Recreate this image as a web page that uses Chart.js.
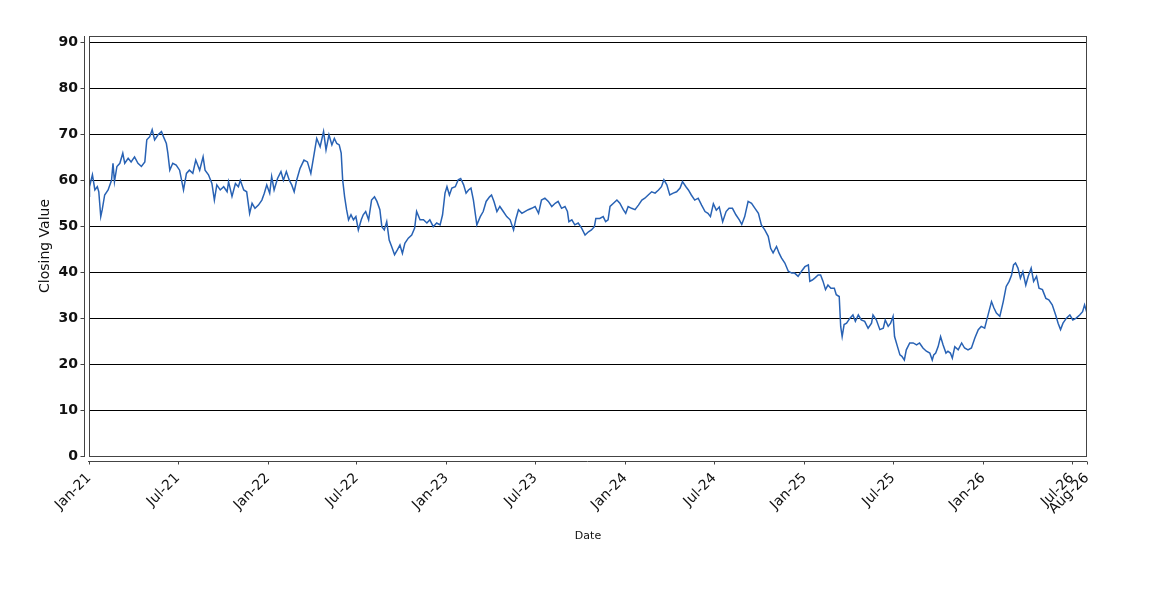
<!DOCTYPE html>
<html>
<head>
<meta charset="utf-8">
<script src="https://cdn.jsdelivr.net/npm/chart.js@4/dist/chart.umd.min.js"></script>
<style>
  html, body { margin: 0; padding: 0; background: #fff; }
  #wrap { width: 1150px; height: 600px; }
</style>
</head>
<body>
<div id="wrap"><canvas id="mycanvas"></canvas></div>
<script>
// start date of the series; x values below are days after it
var startDate = '2021-01-01';

var tickDates = ['2021-01-01','2021-07-01','2022-01-01','2022-07-01','2023-01-01','2023-07-01',
  '2024-01-01','2024-07-01','2025-01-01','2025-07-01','2026-01-01','2026-07-01','2026-08-01'];
var tickLabels = ['Jan-21','Jul-21','Jan-22','Jul-22','Jan-23','Jul-23',
  'Jan-24','Jul-24','Jan-25','Jul-25','Jan-26','Jul-26','Aug-26'];
var yTicks = [0,10,20,30,40,50,60,70,80,90];

// days after startDate
var dayOffsets = [
  0,1,7,12,17,20,24,27,32,39,46,49,52,57,63,69,73,80,86,93,100,107,114,118,124,129,134,141,148,152,158,161,165,171,178,185,193,199,205,212,218,226,233,
  237,244,251,256,261,268,275,282,285,292,299,305,309,316,322,328,333,339,346,353,358,363,369,373,378,385,392,397,403,409,414,419,424,431,439,446,453,460,465,
  472,479,484,490,496,501,506,511,515,518,522,526,530,535,540,545,550,556,560,565,571,577,583,588,594,598,603,608,613,618,624,630,635,640,645,652,659,665,669,676,683,690,696,703,
  710,717,722,727,731,736,741,748,754,759,765,770,775,780,785,792,799,805,811,818,822,827,833,839,846,853,860,867,872,877,884,890,897,904,911,918,924,931,938,945,952,958,
  965,972,977,980,986,992,999,1006,1013,1020,1026,1032,1035,1043,1050,1055,1060,1064,1071,1078,1084,1091,1096,1101,1108,1115,1122,1129,1135,1142,1149,1156,1163,1169,1174,1180,1186,1193,1200,1207,1212,
  1219,1224,1230,1237,1244,1251,1258,1264,1269,1275,1281,1287,1294,1301,1307,1314,1321,1328,1333,1339,1346,1353,1360,1367,1373,1380,1387,1392,1397,1404,1409,1414,1421,1428,1435,1441,1448,1455,1462,1469,
  1472,1477,1482,1489,1494,1499,1504,1509,1515,1522,1526,1532,1535,1538,1542,1547,1554,1560,1565,1571,1577,1584,1591,1598,1601,1608,1615,1622,1626,1632,1637,1642,1645,1651,1656,1660,1665,1669,1676,1683,1690,1696,1703,1710,1717,1722,
  1725,1729,1734,1739,1744,1750,1754,1759,1763,1768,1775,1782,1788,1795,1802,1809,1816,1822,1829,1836,1843,1848,1853,1860,1867,1873,1879,1884,1888,1892,1897,1902,1907,1913,1918,1924,1929,1935,1940,1947,1954,1960,1967,1974,1979,1984,1989,1996,2003,2009,2016,2023,2029,2033,2038
];

var closingValues = [
  56.5,58.6,61.2,57.9,58.6,57.5,52.1,53.6,56.8,57.9,60,63.7,59.7,63,63.7,65.9,63.7,64.8,64,65.1,63.7,63,64,68.8,69.5,71,68.8,69.9,70.6,69.5,68,65.9,62.2,63.7,63.3,62.2,57.9,61.5,62.2,61.5,64.4,62.2,65.1,
  62.2,61.2,59.3,55.7,59,57.9,58.6,57.5,59.7,56.5,59.3,58.6,60,57.9,57.5,52.8,55,53.9,54.6,55.7,57.2,59,57.2,60.8,57.9,60.4,61.9,60,61.9,60,59,57.5,60,62.6,64.4,64,61.5,65.9,69.1,
  67.3,70.6,66.6,69.9,67.7,69.1,68,67.7,65.9,60.1,56.4,53.6,51.4,52.5,51.4,52.1,49.2,51.4,52.5,53.2,51.4,55.7,56.4,55.4,53.6,49.9,49.2,51,47,45.6,43.8,44.9,45.9,44.1,46.3,47.4,48.1,49.6,53.2,51.4,51.4,50.7,51.4,49.9,
  50.7,50.3,52.5,57.2,58.6,56.8,58.3,58.6,60.1,60.4,59,57.2,57.9,58.3,55.7,50.3,52.1,53.2,55.4,56.4,56.8,55.4,53.2,54.3,53.2,52.1,51.4,49.2,51.7,53.6,52.8,53.2,53.6,53.9,54.3,52.8,55.7,56.1,55.4,54.3,55,55.4,
  53.9,54.3,53.2,51,51.4,50.3,50.7,49.6,48.1,48.8,49.2,49.9,51.7,51.7,52.1,51,51.4,54.3,55,55.7,55,53.6,52.8,54.3,53.9,53.6,54.6,55.7,56.1,56.8,57.5,57.2,57.9,58.6,60.1,59,56.8,57.2,57.5,58.3,59.7,
  58.6,57.9,56.8,55.7,56.1,54.6,53.2,52.8,52.1,54.9,53.5,54.2,51,53.2,53.9,53.9,52.5,51.4,50.4,52.1,55.4,55,53.9,52.8,50.3,49.2,47.8,45.2,44.2,45.6,44.2,43.1,42,40.2,39.8,39.8,39.1,40.2,41.2,41.6,
  38,38.3,38.7,39.4,39.4,38,36.2,37.2,36.5,36.5,35.1,34.7,28.2,26,28.6,28.9,30,30.7,29.3,30.7,29.6,29.3,27.8,28.9,30.7,29.6,27.5,27.8,29.6,28.2,28.9,30.4,26,23.8,22,21.7,20.9,23.1,24.6,24.6,24.2,24.6,23.5,22.8,22.4,20.9,
  22,22.4,23.8,26,24.2,22.4,22.8,22.4,21.3,23.8,23.1,24.6,23.5,23.1,23.5,25.7,27.5,28.2,27.8,30.7,33.6,32.2,31.1,30.4,33.6,36.9,38,39.4,41.6,42,40.9,38.7,40.1,37.2,39.1,40.9,38,39.1,36.5,36.2,34.3,34,32.9,30.7,28.9,27.5,28.9,30,30.7,29.6,30,30.7,31.4,32.9,31.1
];

var dayMs = 86400000;
var t0 = Date.parse(startDate);
var tickDays = tickDates.map(function(d){ return Math.round((Date.parse(d) - t0) / dayMs); });

var points = [];
for (var i = 0; i < dayOffsets.length; i++) {
  points.push({x: dayOffsets[i], y: closingValues[i]});
}

// frame around the plot plus offset axis lines with tick marks
var frameAxes = {
  id: 'frameAxes',
  afterDraw: function(chart) {
    var ctx = chart.ctx, a = chart.chartArea;
    var xs = chart.scales.x, ys = chart.scales.y;
    ctx.save();
    ctx.strokeStyle = '#444';
    ctx.lineWidth = 1;
    ctx.strokeRect(Math.round(a.left) + 0.5, Math.round(a.top) + 0.5,
      Math.round(a.right - a.left) - 1, Math.round(a.bottom - a.top));
    ctx.beginPath();
    var ax = Math.round(a.left) - 4.5;
    ctx.moveTo(ax, a.top);
    ctx.lineTo(ax, a.bottom + 1);
    ys.ticks.forEach(function(t) {
      var py = Math.round(ys.getPixelForValue(t.value)) + 0.5;
      ctx.moveTo(ax - 4, py);
      ctx.lineTo(ax, py);
    });
    var ay = Math.round(a.bottom) + 5.5;
    ctx.moveTo(a.left - 1, ay);
    ctx.lineTo(a.right, ay);
    xs.ticks.forEach(function(t) {
      var px = Math.round(xs.getPixelForValue(t.value)) + 0.5;
      ctx.moveTo(px, ay);
      ctx.lineTo(px, ay + 3);
    });
    ctx.stroke();
    ctx.restore();
  }
};

var ctx = document.getElementById('mycanvas');
var linegraph = new Chart(ctx, {
  type: 'line',
  data: {
    datasets: [{
      label: 'Closing Value',
      data: points,
      borderColor: '#2862b4',
      borderWidth: 1.5,
      pointRadius: 0,
      fill: false,
      tension: 0
    }]
  },
  options: {
    responsive: true,
    maintainAspectRatio: false,
    animation: false,
    events: [],
    layout: { padding: { left: 0, top: 36, right: 63, bottom: 0 } },
    plugins: { legend: { display: false }, tooltip: { enabled: false } },
    scales: {
      x: {
        type: 'linear',
        min: 0,
        max: tickDays[tickDays.length - 1],
        afterBuildTicks: function(scale) {
          scale.ticks = tickDays.map(function(v){ return {value: v}; });
        },
        afterFit: function(scale) { scale.height = 144; },
        grid: { display: false },
        border: { display: false },
        ticks: {
          autoSkip: false,
          maxRotation: 45,
          minRotation: 45,
          padding: 6,
          color: '#111',
          font: { family: 'DejaVu Sans', size: 14 },
          callback: function(v, i) { return tickLabels[i]; }
        },
        title: {
          display: true,
          text: 'Date',
          color: '#111',
          font: { family: 'DejaVu Sans', size: 11 },
          padding: { top: 0, bottom: 57 }
        }
      },
      y: {
        min: 0,
        max: 91.4,
        afterBuildTicks: function(scale) {
          scale.ticks = yTicks.map(function(v){ return {value: v}; });
        },
        afterFit: function(scale) { scale.width = 89; },
        grid: { color: '#000', lineWidth: 1, drawTicks: false },
        border: { display: false },
        ticks: {
          padding: 11,
          color: '#111',
          font: { family: 'DejaVu Sans', size: 14, weight: 'bold' }
        },
        title: {
          display: true,
          text: 'Closing Value',
          color: '#111',
          font: { family: 'DejaVu Sans', size: 14 },
          padding: { top: 37, bottom: 0 }
        }
      }
    }
  },
  plugins: [frameAxes]
});
</script>
</body>
</html>
